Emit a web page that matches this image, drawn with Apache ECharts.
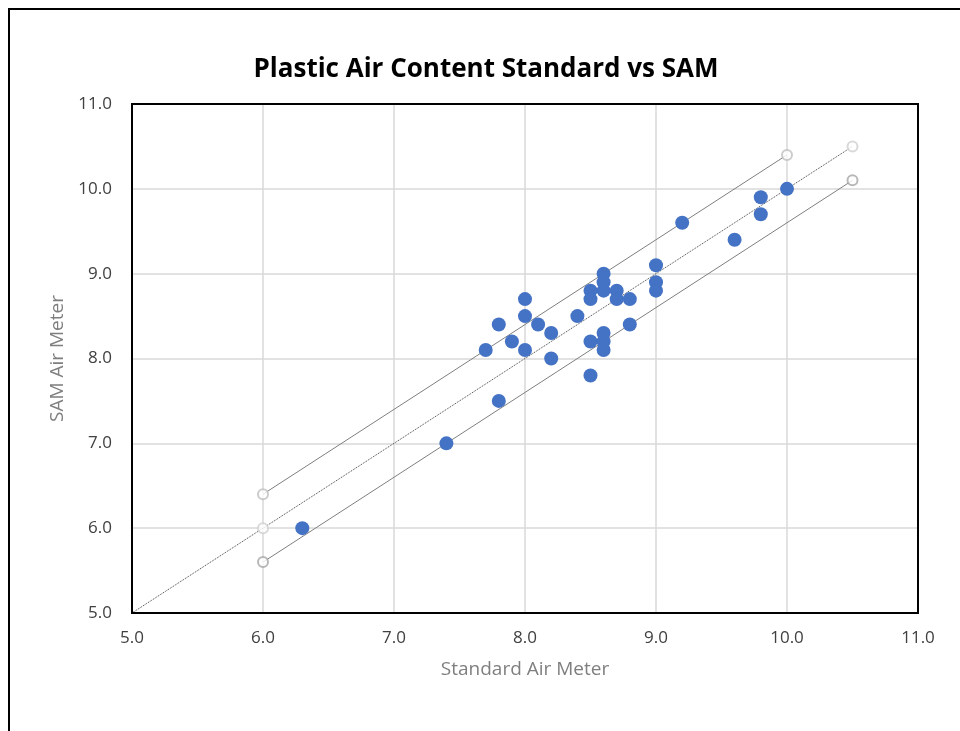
<!DOCTYPE html>
<html><head><meta charset="utf-8">
<script src="https://cdn.jsdelivr.net/npm/echarts@6/dist/echarts.min.js"></script>
<style>html,body{margin:0;padding:0;background:#fff}#c{width:960px;height:731px}</style>
</head><body><div id="c"></div>
<script>
var titleText = 'Plastic Air Content Standard vs SAM';
var xName = 'Standard Air Meter';
var yName = 'SAM Air Meter';
var standard = [6.3,7.4,7.7,7.8,7.8,7.9,8.0,8.0,8.0,8.1,8.2,8.2,8.4,8.5,8.5,8.5,8.5,8.6,8.6,8.6,8.6,8.6,8.6,8.7,8.7,8.8,8.8,9.0,9.0,9.0,9.2,9.6,9.8,9.8,10.0];
var sam      = [6.0,7.0,8.1,8.4,7.5,8.2,8.7,8.5,8.1,8.4,8.3,8.0,8.5,8.8,8.7,8.2,7.8,9.0,8.9,8.8,8.3,8.2,8.1,8.8,8.7,8.7,8.4,9.1,8.9,8.8,9.6,9.4,9.9,9.7,10.0];
var upperLimit = [[6.0,6.4],[10.0,10.4]];
var equality   = [[6.0,6.0],[10.5,10.5]];
var equalityTrend = [[4.93,4.93],[10.5,10.5]];
var lowerLimit = [[6.0,5.6],[10.5,10.1]];
var ticks = [5,6,7,8,9,10,11];

var pts = standard.map(function(v,i){return [v, sam[i]];});
var chart = echarts.init(document.getElementById('c'));
var font = 'Open Sans';
function endpoints(d, color){
  return {type:'scatter', data:d, symbol:'emptyCircle', symbolSize:10,
    itemStyle:{color:color, borderColor:color, borderWidth:1.5}, z:3, silent:true};
}
var split = {show:true, showMinLine:false, showMaxLine:false, lineStyle:{color:'#d9d9d9', width:1.5}};
chart.setOption({
  animation:false,
  backgroundColor:'#fff',
  title:{text:titleText, left:481, textAlign:'center', top:52,
    textStyle:{fontFamily:font, fontWeight:'bold', fontSize:26, color:'#000'}},
  grid:{left:132, right:42, top:104, bottom:118, show:true, borderColor:'#000', borderWidth:2, z:5},
  graphic:[{type:'rect', shape:{x:9,y:9,width:1000,height:1000}, style:{fill:'none', stroke:'#000', lineWidth:2}, z:100}],
  xAxis:{type:'value', min:ticks[0], max:ticks[ticks.length-1], interval:1,
    name:xName, nameLocation:'middle', nameGap:47,
    nameTextStyle:{fontFamily:font, fontSize:19, color:'#7f7f7f'},
    axisLine:{show:false}, axisTick:{show:false},
    axisLabel:{fontFamily:font, fontSize:17, color:'#404040', margin:17, formatter:function(v){return v.toFixed(1);}},
    splitLine:split},
  yAxis:{type:'value', min:ticks[0], max:ticks[ticks.length-1], interval:1,
    name:yName, nameLocation:'middle', nameGap:62,
    nameTextStyle:{fontFamily:font, fontSize:19, color:'#7f7f7f'},
    axisLine:{show:false}, axisTick:{show:false},
    axisLabel:{fontFamily:font, fontSize:17, color:'#404040', margin:20, formatter:function(v){return v.toFixed(1);}},
    splitLine:split},
  series:[
    {type:'line', data:upperLimit, showSymbol:false, lineStyle:{color:'#7f7f7f', width:1}, z:2, silent:true},
    {type:'line', data:lowerLimit, showSymbol:false, lineStyle:{color:'#7f7f7f', width:1}, z:2, silent:true},
    {type:'line', data:equalityTrend, showSymbol:false, clip:false, lineStyle:{color:'#404040', width:1, type:[1,1]}, z:2, silent:true},
    endpoints(upperLimit, '#bfbfbf'),
    endpoints(lowerLimit, '#a6a6a6'),
    endpoints(equality, '#d0d0d0'),
    {type:'scatter', data:pts, symbolSize:14, itemStyle:{color:'#4472c4', opacity:1}, z:4}
  ]
});
</script></body></html>
